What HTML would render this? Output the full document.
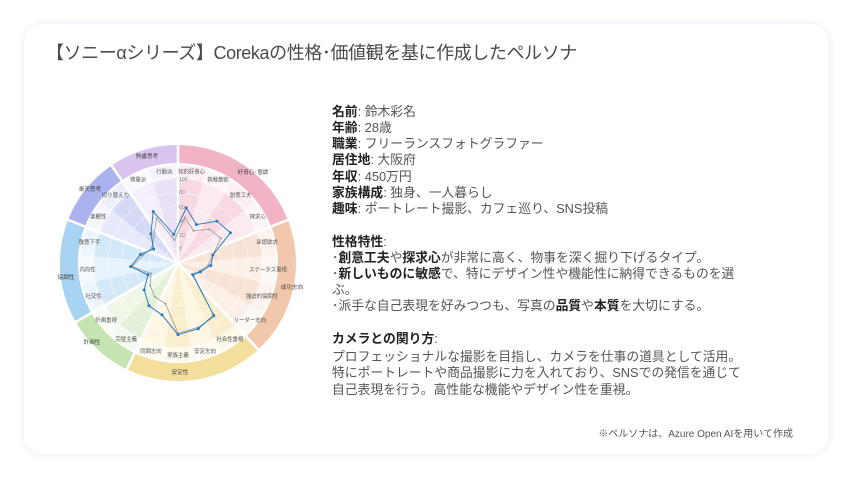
<!DOCTYPE html>
<html><head><meta charset="utf-8">
<style>
html,body{margin:0;padding:0;background:#fff;}
body{width:850px;height:478px;position:relative;overflow:hidden;font-family:"Liberation Sans","Noto Sans CJK JP",sans-serif;}
.card{position:absolute;left:24px;top:24px;width:805px;height:430px;border-radius:18px;background:#fff;box-shadow:0 0 6px rgba(120,130,170,0.18);}
.title{position:absolute;left:46px;top:39px;font-size:18px;color:#4a4a4a;white-space:nowrap;letter-spacing:-0.4px;}
.t{position:absolute;left:332px;font-size:12.8px;color:#555;white-space:nowrap;line-height:16px;}
.t b{color:#222;font-weight:bold;}
.foot{position:absolute;right:57px;top:425px;font-size:10px;color:#555;white-space:nowrap;}
svg{position:absolute;left:0;top:0;}
svg text{font-family:"Liberation Sans","Noto Sans CJK JP",sans-serif;}
</style></head><body>
<div class="card"></div>
<div class="title">【ソニーαシリーズ】Corekaの性格･価値観を基に作成したペルソナ</div>

<div class="t" style="top:104px"><b>名前</b>: 鈴木彩名</div>
<div class="t" style="top:120px"><b>年齢</b>: 28歳</div>
<div class="t" style="top:136px"><b>職業</b>: フリーランスフォトグラファー</div>
<div class="t" style="top:152px"><b>居住地</b>: 大阪府</div>
<div class="t" style="top:169px"><b>年収</b>: 450万円</div>
<div class="t" style="top:185px"><b>家族構成</b>: 独身、一人暮らし</div>
<div class="t" style="top:201px"><b>趣味</b>: ポートレート撮影、カフェ巡り、SNS投稿</div>

<div class="t" style="top:234px"><b>性格特性</b>:</div>
<div class="t" style="top:250px">･<b>創意工夫</b>や<b>探求心</b>が非常に高く、物事を深く掘り下げるタイプ。</div>
<div class="t" style="top:266px">･<b>新しいものに敏感</b>で、特にデザイン性や機能性に納得できるものを選</div>
<div class="t" style="top:282px">ぶ。</div>
<div class="t" style="top:298px">･派手な自己表現を好みつつも、写真の<b>品質</b>や<b>本質</b>を大切にする。</div>

<div class="t" style="top:331px"><b>カメラとの関り方</b>:</div>
<div class="t" style="top:349px">プロフェッショナルな撮影を目指し、カメラを仕事の道具として活用。</div>
<div class="t" style="top:365px">特にポートレートや商品撮影に力を入れており、SNSでの発信を通じて</div>
<div class="t" style="top:382px">自己表現を行う。高性能な機能やデザイン性を重視。</div>

<div class="foot">※ペルソナは、Azure Open AIを用いて作成</div>

<svg width="850" height="478" viewBox="0 0 850 478">
<g id="shapes"></g>
<g font-size="5.4" fill="#555" text-anchor="middle">
<text x="191.7" y="173.5">知的好奇心</text>
<text x="217.9" y="181.5">挑戦意欲</text>
<text x="240.6" y="197">創意工夫</text>
<text x="257.7" y="218.5">探求心</text>
<text x="267" y="244">承認欲求</text>
<text x="268" y="271.5">ステータス重視</text>
<text x="262" y="298">強迫的協調性</text>
<text x="249.9" y="322">リーダー志向</text>
<text x="229.8" y="341">社会性重視</text>
<text x="205.1" y="353">安定志向</text>
<text x="178" y="357">家族主義</text>
<text x="150.9" y="353">同調志向</text>
<text x="126.2" y="341">完璧主義</text>
<text x="106.1" y="322">計画重視</text>
<text x="93.5" y="298">社交性</text>
<text x="87.5" y="271.5">内向性</text>
<text x="89.5" y="244">敬意下手</text>
<text x="98.3" y="218.5">楽観性</text>
<text x="115.4" y="197">切り替え力</text>
<text x="138.1" y="181.5">慎重派</text>
<text x="164.3" y="173.5">行動派</text>
</g>
<g font-size="5.6" fill="#444" text-anchor="middle">
<text x="253" y="174">好奇心･意欲</text>
<text x="292" y="289">成功志向</text>
<text x="180" y="374">安定性</text>
<text x="92" y="344">計画性</text>
<text x="66" y="279">協調性</text>
<text x="90" y="191">楽天思考</text>
<text x="147" y="158">熱盧思考</text>
</g>
<g font-size="5.2" fill="#888">
<text x="179" y="181">100</text>
<text x="179" y="194">80</text>
<text x="179" y="209">60</text>
<text x="179" y="223">40</text>
<text x="179" y="237">20</text>
<text x="179" y="250">0</text>
</g>
<g id="data"></g>
</svg>
<script>
(function(){
var cx=178,cy=263,N=21,step=360/N,NS="http://www.w3.org/2000/svg";
function P(a,r){a=a*Math.PI/180;return [cx+r*Math.sin(a),cy-r*Math.cos(a)];}
function wedge(a0,a1,r0,r1,fill,op){
 var p1=P(a0,r1),p2=P(a1,r1),p3=P(a1,r0),p4=P(a0,r0),lg=(a1-a0)>180?1:0;
 var d="M"+p1+"A"+r1+","+r1+" 0 "+lg+" 1 "+p2+"L"+p3+(r0>0?"A"+r0+","+r0+" 0 "+lg+" 0 "+p4:"")+"Z";
 var e=document.createElementNS(NS,"path");e.setAttribute("d",d);e.setAttribute("fill",fill);if(op!=null)e.setAttribute("fill-opacity",op);return e;}
var g=document.getElementById("shapes");
var groups=[[0,4,"#f2b3c5"],[4,8,"#f2c8ad"],[8,12,"#f4de9c"],[12,14,"#c6e4b1"],[14,17,"#a8d3f2"],[17,19,"#aab3ee"],[19,21,"#d8c4ee"]];
groups.forEach(function(gr){
 var a0=gr[0]*step,a1=gr[1]*step,c=gr[2];
 g.appendChild(wedge(a0,a1,100,118,c,1));
 for(var i=gr[0];i<gr[1];i++){
  g.appendChild(wedge(i*step,(i+1)*step,0,85,c,(i%2?0.28:0.5)));
  g.appendChild(wedge(i*step,(i+1)*step,86,98,c,(i%2?0.12:0.22)));
 }
});
[15,28.8,42.6,56.4,70.2,84].forEach(function(r){
 var c=document.createElementNS(NS,"circle");c.setAttribute("cx",cx);c.setAttribute("cy",cy);c.setAttribute("r",r);
 c.setAttribute("fill","none");c.setAttribute("stroke","#fff");c.setAttribute("stroke-opacity","0.7");c.setAttribute("stroke-width","0.6");g.appendChild(c);});
groups.forEach(function(gr){
 var a=gr[0]*step,p=P(a,120);
 var l=document.createElementNS(NS,"line");l.setAttribute("x1",cx);l.setAttribute("y1",cy);l.setAttribute("x2",p[0]);l.setAttribute("y2",p[1]);
 l.setAttribute("stroke","#fff");l.setAttribute("stroke-width","2.5");g.appendChild(l);});
var dg=document.getElementById("data");
function series(vals,col,w,dr){
 var pts=vals.map(function(v,i){return P((i+0.5)*step,15+0.69*v);});
 var pl=document.createElementNS(NS,"polygon");pl.setAttribute("points",pts.map(function(p){return p.join(",")}).join(" "));
 pl.setAttribute("fill","none");pl.setAttribute("stroke",col);pl.setAttribute("stroke-width",w);dg.appendChild(pl);
 pts.forEach(function(p){var c=document.createElementNS(NS,"circle");c.setAttribute("cx",p[0]);c.setAttribute("cy",p[1]);c.setAttribute("r",dr);c.setAttribute("fill",col);dg.appendChild(c);});
}
series([45,30,45,50,30,22,12,4,72,76,80,40,38,30,20,45,30,22,30,50,12],"#999",0.8,1);
series([59,40,61,66,30,26,13,6,70,78,82,57,53,41,25,47,34,19,36,61,20],"#2b7bbf",1,1.5);
})();
</script>
</body></html>
